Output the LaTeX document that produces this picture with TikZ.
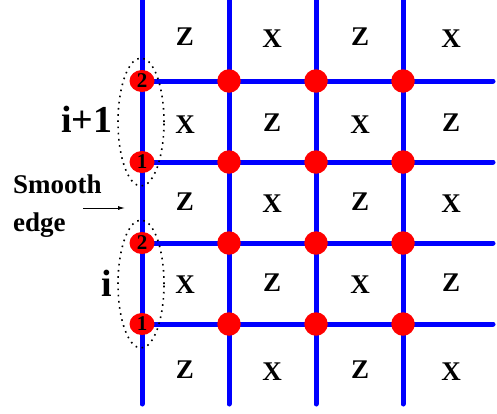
\documentclass[tikz,border=0pt]{standalone}
\usepackage{fontspec}
\setmainfont{Liberation Serif}
\usetikzlibrary{shapes.geometric, arrows.meta, positioning}

\begin{document}
\begin{tikzpicture}[x=1pt, y=-1pt,
      wire/.style={blue, line width=5pt, line cap=round},
      bulk/.style={circle, fill=red, inner sep=0pt, minimum size=23.5pt},
      rim/.style={ellipse, fill=red, inner sep=0pt, minimum width=25pt,
                  minimum height=22pt, font=\bfseries\fontsize{21}{21}\selectfont},
      stab/.style={font=\bfseries\fontsize{27}{38}\selectfont, inner sep=0pt},
      group/.style={ellipse, draw, line width=1.6pt, dash pattern=on 1.6pt off 4.6pt,
                    minimum width=46pt, minimum height=128pt, inner sep=0pt},
      lbl/.style={font=\bfseries\fontsize{38}{38}\selectfont, inner sep=0pt},
      arr/.style={-{Latex[length=7pt, width=4pt]}, line width=0.9pt}
    ]
    \useasboundingbox (0,0) rectangle (497,413);

    % ends of the lattice lines
    \foreach \x [count=\k] in {142,229,316,403} {
      \coordinate (top\k) at (\x,0);
      \coordinate (bot\k) at (\x,404);
    }
    \foreach \y [count=\r] in {81,162,243,324}
      \coordinate (end\r) at (493,\y);

    \foreach \k in {1,...,4}
      \draw[wire] (top\k) -- (bot\k);
    \foreach \r in {1,...,4}
      \draw[wire] (top1 |- end\r) -- (end\r);

    % qubits
    \foreach \x [count=\k from 2] in {229,316,403}
      \foreach \y [count=\r] in {81,162,243,324}
        \node[bulk] (s\r\k) at (\x,\y) {};
    \node[rim] (e1) at (142,81)  {2};
    \node[rim] (e2) at (142,162) {1};
    \node[rim] (e3) at (142,243) {2};
    \node[rim] (e4) at (142,324) {1};

    % stabilizers
    \foreach \x [count=\c] in {185,272,360,451}
      \foreach \y [count=\r] in {37,123,202,283,370} {
        \pgfmathtruncatemacro\parity{\c+\r}
        \ifodd\parity
          \node[stab] (p\r\c) at (\x,\y+2) {X};
        \else
          \node[stab] (p\r\c) at (\x,\y) {Z};
        \fi
      }

    % pairs on the smooth edge
    \node[group] (pair2) at (141,122) {};
    \node[group] (pair1) at (141,284) {};
    \node[lbl] (upper) at (87,119) {i+1};
    \node[lbl] (lower) at (107,283) {i};

    \node[stab, align=left, anchor=west] (smooth) at (13,206) {Smooth\\edge};
    \coordinate (tail) at (83,208);
    \coordinate (head) at (125,208);
    \draw[arr] (tail) -- (head);
  \end{tikzpicture}
\end{document}
